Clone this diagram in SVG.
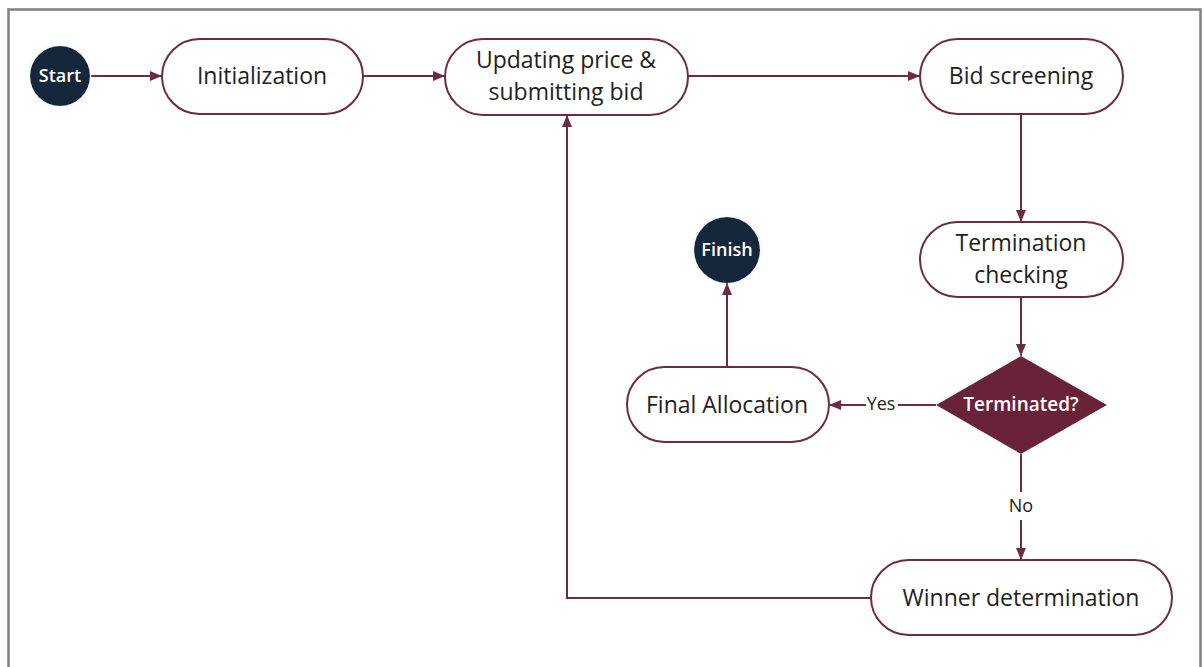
<svg xmlns="http://www.w3.org/2000/svg" width="1204" height="667" viewBox="0 0 1204 667">
  <defs>
    <style>
      .frame { fill: #ffffff; stroke: #808080; stroke-width: 2.5; }
      .box { fill: #ffffff; stroke: #6e2a42; stroke-width: 2; }
      .dot { fill: #19263a; }
      .decision { fill: #6b2439; }
      .edge { fill: none; stroke: #6e2a42; stroke-width: 2; }
      .label { font-family: "Open Sans", "Noto Sans", sans-serif; font-size: 23px; fill: #222222; text-anchor: middle; dominant-baseline: central; }
      .small { font-family: "Open Sans", "Noto Sans", sans-serif; font-size: 18px; fill: #222222; text-anchor: middle; dominant-baseline: central; }
      .inv { font-family: "Open Sans", "Noto Sans", sans-serif; font-weight: 600; fill: #ffffff; text-anchor: middle; dominant-baseline: central; }
    </style>
    <marker id="arrow" viewBox="0 0 12 10" refX="12" refY="5" markerWidth="12" markerHeight="10" markerUnits="userSpaceOnUse" orient="auto">
      <path d="M0,0 L12,5 L0,10 Z" fill="#6e2a42"/>
    </marker>
    <filter id="glow" x="-30%" y="-30%" width="160%" height="160%">
      <feGaussianBlur in="SourceAlpha" stdDeviation="2.5"/>
      <feColorMatrix type="matrix" values="0 0 0 0 0.55  0 0 0 0 0.7  0 0 0 0 0.9  0 0 0 0.45 0"/>
      <feMerge><feMergeNode/><feMergeNode in="SourceGraphic"/></feMerge>
    </filter>
  </defs>

  <rect x="0" y="0" width="1204" height="667" fill="#ffffff"/>
  <rect class="frame" x="8.5" y="9.5" width="1192" height="670"/>

  <g id="connectors">
    <path class="edge" d="M91,76 H162" marker-end="url(#arrow)"/>
    <path class="edge" d="M363,76 H445" marker-end="url(#arrow)"/>
    <path class="edge" d="M688,76 H920" marker-end="url(#arrow)"/>
    <path class="edge" d="M1021,114 V222" marker-end="url(#arrow)"/>
    <path class="edge" d="M1021,297 V356" marker-end="url(#arrow)"/>
    <path class="edge" d="M936,405 H898 M866,405 H829" marker-end="url(#arrow)"/>
    <path class="edge" d="M1021,454 V492 M1021,520 V560" marker-end="url(#arrow)"/>
    <path class="edge" d="M871,598 H567 V115" marker-end="url(#arrow)"/>
    <path class="edge" d="M727,367 V283" marker-end="url(#arrow)"/>
    <text class="small" x="881" y="403">Yes</text>
    <text class="small" x="1021" y="505">No</text>
  </g>

  <g id="start">
    <circle class="dot" cx="60" cy="76" r="30" filter="url(#glow)"/>
    <text class="inv" x="60" y="75" font-size="18">Start</text>
  </g>

  <g id="initialization">
    <rect class="box" x="162" y="39" width="201" height="75" rx="37.5"/>
    <text class="label" x="262" y="75">Initialization</text>
  </g>

  <g id="updating">
    <rect class="box" x="445" y="39" width="243" height="76" rx="38"/>
    <text class="label" x="566" y="59">Updating price &amp;</text>
    <text class="label" x="566" y="91">submitting bid</text>
  </g>

  <g id="bid-screening">
    <rect class="box" x="920" y="39" width="203" height="75" rx="37.5"/>
    <text class="label" x="1021" y="75">Bid screening</text>
  </g>

  <g id="termination-checking">
    <rect class="box" x="920" y="222" width="203" height="75" rx="37.5"/>
    <text class="label" x="1021" y="242">Termination</text>
    <text class="label" x="1021" y="274">checking</text>
  </g>

  <g id="terminated">
    <polygon class="decision" points="1021,356 1107,405 1021,454 936,405" filter="url(#glow)"/>
    <text class="inv" x="1021" y="404" font-size="19">Terminated?</text>
  </g>

  <g id="final-allocation">
    <rect class="box" x="627" y="367" width="202" height="75" rx="37.5"/>
    <text class="label" x="727" y="404">Final Allocation</text>
  </g>

  <g id="finish">
    <circle class="dot" cx="727" cy="250" r="33" filter="url(#glow)"/>
    <text class="inv" x="727" y="249" font-size="18">Finish</text>
  </g>

  <g id="winner-determination">
    <rect class="box" x="871" y="560" width="301" height="75" rx="37.5"/>
    <text class="label" x="1021" y="597">Winner determination</text>
  </g>
</svg>
